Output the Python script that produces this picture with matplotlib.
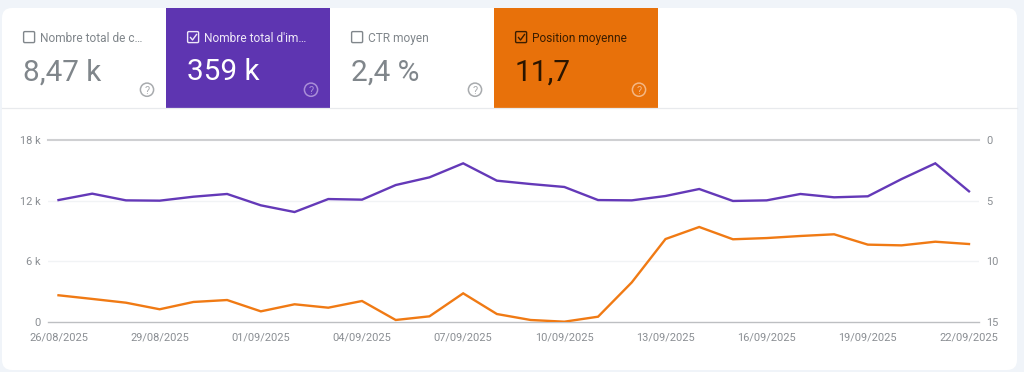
import matplotlib
matplotlib.use('Agg')
import matplotlib.pyplot as plt
from matplotlib.patches import FancyBboxPatch, Rectangle, Circle

plt.rcParams['font.family'] = ['Roboto', 'DejaVu Sans']

# ---- data
dates = ['26/08/2025', '27/08/2025', '28/08/2025', '29/08/2025', '30/08/2025', '31/08/2025', '01/09/2025',
         '02/09/2025', '03/09/2025', '04/09/2025', '05/09/2025', '06/09/2025', '07/09/2025', '08/09/2025',
         '09/09/2025', '10/09/2025', '11/09/2025', '12/09/2025', '13/09/2025', '14/09/2025', '15/09/2025',
         '16/09/2025', '17/09/2025', '18/09/2025', '19/09/2025', '20/09/2025', '21/09/2025', '22/09/2025']
impressions = [12050, 12680, 12020, 11990, 12380, 12650, 11530, 10870, 12150, 12090, 13530, 14290, 15670, 13960,
               13630, 13340, 12050, 12020, 12450, 13140, 11960, 12020, 12650, 12320, 12420, 14120, 15670, 12910]
position = [12.78, 13.08, 13.39, 13.93, 13.33, 13.17, 14.10, 13.52, 13.80, 13.25, 14.81, 14.51, 12.62, 14.32,
            14.81, 14.95, 14.54, 11.72, 8.16, 7.17, 8.18, 8.08, 7.91, 7.77, 8.62, 8.68, 8.38, 8.57]
left_ticks = [0, 6000, 12000, 18000]
left_labels = ['0', '6 k', '12 k', '18 k']
right_ticks = [0, 5, 10, 15]
right_labels = ['0', '5', '10', '15']
tile_titles = ['Nombre total de c…', "Nombre total d'im…", 'CTR moyen', 'Position moyenne']
tile_values = ['8,47 k', '359 k', '2,4 %', '11,7']
tile_checked = [False, True, False, True]

purple = '#5e35b1'
orange = '#e8710a'
W, H = 1024, 372

fig = plt.figure(figsize=(W / 100, H / 100), dpi=100, facecolor='#f0f4f9')

# ---- card and tiles, in pixel coordinates
bg = fig.add_axes([0, 0, 1, 1])
bg.set_xlim(0, W)
bg.set_ylim(H, 0)
bg.axis('off')

bg.add_patch(FancyBboxPatch((2, 8), 1015, 362, boxstyle='round,pad=0,rounding_size=10', fc='white', ec='none'))
bg.plot([2, 1017], [108.3, 108.3], color='#e8eaed', lw=0.9)

tile_x = [2, 166, 330, 494]
tile_w = [164, 164, 164, 164]
tile_bg = [None, purple, None, orange]
tile_text = ['#80868b', 'white', '#80868b', '#2b1500']
tile_title = ['#80868b', '#eee8f8', '#80868b', '#3a1d00']
help_col = ['#a8abae', '#a98ed8', '#a8abae', '#f4b784']

for i in range(4):
    x0 = tile_x[i]
    if tile_bg[i]:
        bg.add_patch(Rectangle((x0, 8), tile_w[i], 100.3, fc=tile_bg[i], ec='none'))
    # checkbox
    bg.add_patch(FancyBboxPatch((x0 + 21.6, 31.6), 11, 11, boxstyle='round,pad=0,rounding_size=1.2',
                                fc='none', ec=tile_title[i], lw=1.0))
    if tile_checked[i]:
        bg.plot([x0 + 24.5, x0 + 26.5, x0 + 30.5], [37.5, 40, 34.5], color=tile_title[i], lw=1.0)
    bg.text(x0 + 38.5, 36.8, tile_titles[i], color=tile_title[i], fontsize=8.6, ha='left', va='center_baseline')
    bg.text(x0 + 21, 69.5, tile_values[i], color=tile_text[i], fontsize=21.4, ha='left', va='center_baseline')
    # help icon
    bg.add_patch(Circle((x0 + 145, 89.7), 6.6, fc='none', ec=help_col[i], lw=1.1))
    bg.text(x0 + 145, 89.7, '?', color=help_col[i], fontsize=7.8, ha='center', va='center_baseline')

# ---- chart axes
left, right, top, bottom = 48, 979, 139.7, 322.3
ax = fig.add_axes([left / W, 1 - bottom / H, (right - left) / W, (bottom - top) / H])
ax.patch.set_alpha(0)
step = (969 - 58.5) / 27
ax.set_xlim(-(58.5 - left) / step, 27 + (right - 969) / step)
ax.set_ylim(0, 18000)
for s in ax.spines.values():
    s.set_visible(False)

ax.axhline(18000, color='#cfd0d2', lw=1.5, clip_on=False, zorder=1)
ax.axhline(12000, color='#f1f3f5', lw=1.0, zorder=1)
ax.axhline(6000, color='#f1f3f5', lw=1.0, zorder=1)
ax.axhline(0, color='#bdbfc2', lw=1.0, clip_on=False, zorder=1)

xs = list(range(len(dates)))
ax.plot(xs, impressions, color='#6439b8', lw=1.7, zorder=3, solid_joinstyle='miter')
ax.set_yticks(left_ticks)
ax.set_yticklabels(left_labels)
ax.set_xticks(xs[::3])
ax.set_xticklabels(dates[::3])
ax.tick_params(axis='both', length=0, labelcolor='#8a8e93', labelsize=7.9)
ax.tick_params(axis='y', pad=5)
ax.tick_params(axis='x', pad=7)

ax2 = ax.twinx()
ax2.patch.set_alpha(0)
ax2.set_ylim(15, 0)
ax2.plot(xs, position, color='#f07a14', lw=1.7, zorder=3, solid_joinstyle='miter')
ax2.set_yticks(right_ticks)
ax2.set_yticklabels(right_labels)
ax2.tick_params(axis='y', length=0, labelcolor='#8a8e93', labelsize=7.9, pad=5)
for s in ax2.spines.values():
    s.set_visible(False)

fig.savefig('out.png', dpi=100, facecolor=fig.get_facecolor())
